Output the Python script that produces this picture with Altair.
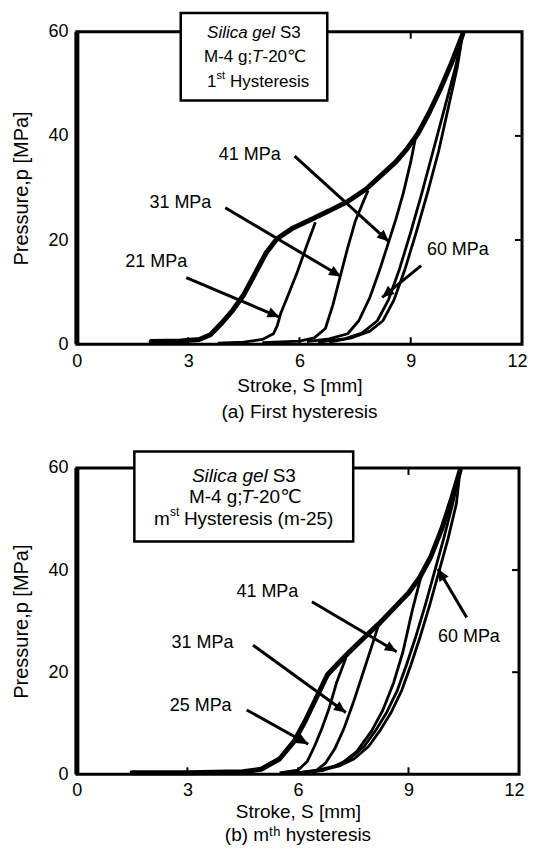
import math
import altair as alt
import pandas as pd

FONT = "Liberation Sans, DejaVu Sans"

# ---------------- (a) First hysteresis ----------------
a_load_x = [2.0, 2.8, 3.3, 3.6, 3.9, 4.2, 4.5, 4.8, 5.1, 5.4, 5.8, 6.3, 6.8, 7.3, 7.8, 8.2, 8.6, 8.9, 9.2, 9.5, 9.8, 10.1, 10.4]
a_load_y = [0.5, 0.6, 0.9, 1.8, 4.0, 6.5, 9.5, 13.5, 17.5, 20.3, 22.2, 23.9, 25.6, 27.4, 29.8, 32.4, 35.0, 37.5, 40.5, 44.5, 49.0, 54.0, 59.5]

a_u21_x = [6.43, 6.2, 5.95, 5.7, 5.5, 5.4, 5.3, 5.0, 4.5, 3.8]
a_u21_y = [23.4, 19.0, 14.0, 9.5, 6.0, 3.5, 2.0, 0.9, 0.4, 0.2]
a_u31_x = [7.85, 7.7, 7.5, 7.3, 7.1, 6.9, 6.7, 6.4, 6.0, 5.0]
a_u31_y = [29.5, 27.0, 23.5, 18.5, 13.0, 7.5, 3.0, 1.2, 0.6, 0.3]
a_u41_x = [9.15, 9.0, 8.8, 8.6, 8.4, 8.15, 7.9, 7.6, 7.3, 6.8, 6.2]
a_u41_y = [40.4, 35.0, 29.0, 24.0, 19.5, 14.0, 9.0, 4.5, 2.0, 1.0, 0.5]
a_u60_x = [10.4, 10.2, 9.9, 9.6, 9.3, 9.0, 8.7, 8.4, 8.1, 7.7, 7.2, 6.5]
a_u60_y = [59.5, 53.0, 45.0, 37.0, 29.0, 21.5, 14.5, 8.5, 4.5, 2.2, 1.0, 0.4]
a_v60_x = [10.4, 10.25, 10.0, 9.75, 9.45, 9.15, 8.85, 8.55, 8.25, 7.9, 7.4, 6.8]
a_v60_y = [59.5, 53.0, 45.0, 37.0, 29.0, 21.5, 14.5, 8.5, 4.5, 2.5, 1.2, 0.4]

a_labels = ["41 MPa", "31 MPa", "21 MPa", "60 MPa"]
a_label_x = [4.66, 2.79, 2.14, 10.27]
a_label_y = [36.4, 27.1, 15.8, 18.0]
a_arrow_x1 = [5.87, 4.0, 2.95, 9.28]
a_arrow_y1 = [36.1, 26.2, 12.8, 15.1]
a_arrow_x2 = [8.41, 7.12, 5.46, 8.23]
a_arrow_y2 = [19.7, 13.0, 5.2, 9.0]

a_box = [2.8, 6.75, 46.8, 63.6]  # x1, x2, y1, y2

# ---------------- (b) m-th hysteresis ----------------
b_load_x = [1.5, 3.0, 4.5, 5.0, 5.5, 5.9, 6.2, 6.5, 6.8, 7.1, 7.4, 7.8, 8.2, 8.6, 9.0, 9.3, 9.6, 9.9, 10.15, 10.4]
b_load_y = [0.3, 0.3, 0.5, 1.0, 3.0, 6.5, 10.5, 15.0, 19.5, 21.8, 24.0, 26.8, 29.5, 32.5, 35.5, 38.5, 42.5, 48.0, 53.5, 59.5]

b_u25_x = [7.3, 7.05, 6.85, 6.65, 6.45, 6.25, 6.0, 5.5]
b_u25_y = [22.8, 18.0, 13.0, 9.0, 5.5, 2.5, 0.8, 0.3]
b_u31_x = [8.2, 8.0, 7.75, 7.5, 7.25, 7.0, 6.75, 6.5, 6.0]
b_u31_y = [29.5, 25.0, 19.5, 14.0, 9.0, 5.0, 2.2, 0.8, 0.3]
b_u41_x = [9.35, 9.1, 8.85, 8.6, 8.3, 8.0, 7.6, 7.2, 6.7, 6.0]
b_u41_y = [39.0, 32.0, 24.0, 18.0, 12.5, 8.5, 4.5, 2.2, 0.8, 0.3]
b_u60_x = [10.4, 10.2, 9.95, 9.7, 9.45, 9.2, 8.95, 8.7, 8.4, 8.1, 7.8, 7.4, 7.0, 6.4, 5.8]
b_u60_y = [59.5, 53.0, 46.0, 39.5, 33.0, 27.0, 21.5, 16.5, 12.0, 8.5, 5.5, 3.0, 1.6, 0.6, 0.2]
b_v60_x = [10.4, 10.3, 10.07, 9.82, 9.57, 9.32, 9.07, 8.82, 8.52, 8.22, 7.92, 7.52, 7.1, 6.5, 5.9]
b_v60_y = [59.5, 53.0, 46.0, 39.5, 33.0, 27.0, 21.5, 16.5, 12.0, 8.5, 5.5, 3.0, 1.6, 0.6, 0.2]

b_labels = ["41 MPa", "31 MPa", "25 MPa", "60 MPa"]
b_label_x = [5.17, 3.41, 3.36, 10.64]
b_label_y = [35.7, 25.8, 13.4, 26.8]
b_arrow_x1 = [6.38, 4.78, 4.61, 10.58]
b_arrow_y1 = [33.8, 25.3, 12.6, 30.7]
b_arrow_x2 = [8.68, 7.3, 6.28, 9.80]
b_arrow_y2 = [24.0, 12.1, 5.9, 40.2]

b_box = [1.56, 7.5, 45.6, 63.2]

x_ticks = [0, 3, 6, 9, 12]
y_ticks = [0, 20, 40, 60]

ARROW_PATH = "M0,0 L-0.45,1 L0.45,1 Z"


def curves_df(curves):
    rows = []
    for name, xs, ys in curves:
        for i, (x, y) in enumerate(zip(xs, ys)):
            rows.append({"curve": name, "i": i, "x": x, "y": y})
    return pd.DataFrame(rows)


def panel(load, curves, labels, lx, ly, ax1, ay1, ax2, ay2, box, w, h,
          box_lines, caption, label_pad, title_pad, cap_off):
    ppx = w / 12.0
    ppy = h / 60.0
    xs = alt.Scale(domain=[0, 12], nice=False, zero=False)
    ys = alt.Scale(domain=[0, 60], nice=False)
    xax = alt.Axis(values=x_ticks, title="Stroke, S [mm]", grid=False, ticks=False,
                   domain=False, labelFontSize=18, labelPadding=label_pad, titleFontSize=19,
                   titleFontWeight="normal", titlePadding=title_pad, labelFont=FONT,
                   titleFont=FONT, labelColor="black", titleColor="black",
                   labelFlush=False,
                   labelAlign={"condition": {"test": "datum.value >= 12", "value": "right"},
                               "value": "center"},
                   labelOffset={"condition": {"test": "datum.value >= 12", "value": 5},
                                "value": 0})
    yax = alt.Axis(values=y_ticks, title="Pressure,p [MPa]", grid=False, ticks=False,
                   domain=False, labelFontSize=18, labelPadding=9, titleFontSize=20,
                   titleFontWeight="normal", titlePadding=16, labelFont=FONT,
                   titleFont=FONT, labelColor="black", titleColor="black",
                   labelFlush=False)

    ld = curves_df([("load", load[0], load[1])])
    base_load = alt.Chart(ld).mark_line(color="black", strokeWidth=5,
                                        strokeJoin="round", strokeCap="round").encode(
        x=alt.X("x:Q", scale=xs, axis=xax),
        y=alt.Y("y:Q", scale=ys, axis=yax),
        detail="curve:N", order="i:Q")

    ud = curves_df(curves)
    unload = alt.Chart(ud).mark_line(color="black", strokeWidth=2.8,
                                     strokeJoin="round").encode(
        x=alt.X("x:Q", scale=xs), y=alt.Y("y:Q", scale=ys),
        detail="curve:N", order="i:Q")

    # frame ticks (inward) and thick left frame line
    tk = pd.DataFrame({
        "x": [3, 6, 9, 9, 12, 12, 0],
        "x2": [3, 6, 9, 9, 12 - 7 / ppx, 12 - 7 / ppx, 0],
        "y": [0, 0, 0, 60, 20, 40, 0],
        "y2": [7 / ppy, 7 / ppy, 7 / ppy, 60 - 7 / ppy, 20, 40, 60],
        "sw": [2, 2, 2, 2, 2, 2, 5],
    })
    ticks = alt.Chart(tk).mark_rule(color="black").encode(
        x=alt.X("x:Q", scale=xs), x2="x2:Q",
        y=alt.Y("y:Q", scale=ys), y2="y2:Q",
        strokeWidth=alt.StrokeWidth("sw:Q", scale=None))

    ad = pd.DataFrame({"label": labels, "lx": lx, "ly": ly,
                       "x1": ax1, "y1": ay1, "x2": ax2, "y2": ay2})
    ad["ang"] = [(math.degrees(math.atan2((b - a) * ppx, (d - c) * ppy)) + 360) % 360
                 for a, b, c, d in zip(ad.x1, ad.x2, ad.y1, ad.y2)]
    shafts = alt.Chart(ad).mark_rule(color="black", strokeWidth=3).encode(
        x=alt.X("x1:Q", scale=xs), x2="x2:Q",
        y=alt.Y("y1:Q", scale=ys), y2="y2:Q")
    heads = alt.Chart(ad).mark_point(shape=ARROW_PATH, filled=True, color="black",
                                     size=560, opacity=1).encode(
        x=alt.X("x2:Q", scale=xs), y=alt.Y("y2:Q", scale=ys),
        angle=alt.Angle("ang:Q", scale=None))
    texts = alt.Chart(ad).mark_text(font=FONT, fontSize=18, color="black",
                                    align="center", baseline="middle").encode(
        x=alt.X("lx:Q", scale=xs), y=alt.Y("ly:Q", scale=ys), text="label:N")

    bd = pd.DataFrame({"x1": [box[0]], "x2": [box[1]], "y1": [box[2]], "y2": [box[3]]})
    rect = alt.Chart(bd).mark_rect(fill="white", stroke="black", strokeWidth=2.5).encode(
        x=alt.X("x1:Q", scale=xs), x2="x2:Q",
        y=alt.Y("y1:Q", scale=ys), y2="y2:Q")

    layers = [base_load, unload, ticks, shafts, heads, texts, rect]
    cx = (box[0] + box[1]) / 2
    for (ly_, segs) in box_lines:
        pos = pd.DataFrame({"x": [cx], "y": [ly_]})
        for (txt, dx, dy, style, size) in segs:
            layers.append(alt.Chart(pos).mark_text(
                text=txt, font=FONT, fontSize=size, fontStyle=style, color="black",
                align="left", baseline="middle", dx=dx, dy=dy).encode(
                x=alt.X("x:Q", scale=xs), y=alt.Y("y:Q", scale=ys)))

    return alt.layer(*layers).properties(
        width=w, height=h,
        title=alt.TitleParams(caption, orient="bottom", fontSize=19, font=FONT,
                              fontWeight="normal", color="black", offset=cap_off))


a_box_lines = [
    (59.7, [("Silica gel", -47, 0, "italic", 17), ("S3", 26, 0, "normal", 17)]),
    (55.1, [("M-4 g;", -50, 0, "normal", 17), ("T", -2, 0, "italic", 17),
            ("-20℃", 8.5, 0, "normal", 17)]),
    (50.4, [("1", -47, 0, "normal", 17), ("st", -37.5, -6, "normal", 11),
            ("Hysteresis", -24, 0, "normal", 17)]),
]
b_box_lines = [
    (58.5, [("Silica gel", -52, 0, "italic", 19), ("S3", 29, 0, "normal", 19)]),
    (54.3, [("M-4 g;", -55, 0, "normal", 19), ("T", -2.5, 0, "italic", 19),
            ("-20℃", 9, 0, "normal", 19)]),
    (50.0, [("m", -90, 0, "normal", 19), ("st", -74, -7, "normal", 12),
            ("Hysteresis (m-25)", -60, 0, "normal", 19)]),
]

top = panel((a_load_x, a_load_y),
            [("u21", a_u21_x, a_u21_y), ("u31", a_u31_x, a_u31_y),
             ("u41", a_u41_x, a_u41_y), ("u60", a_u60_x, a_u60_y),
             ("v60", a_v60_x, a_v60_y)],
            a_labels, a_label_x, a_label_y, a_arrow_x1, a_arrow_y1, a_arrow_x2, a_arrow_y2,
            a_box, 446, 313, a_box_lines, "(a) First hysteresis", 8, 6, 8)

bottom = panel((b_load_x, b_load_y),
               [("u25", b_u25_x, b_u25_y), ("u31", b_u31_x, b_u31_y),
                ("u41", b_u41_x, b_u41_y), ("u60", b_u60_x, b_u60_y),
                ("v60", b_v60_x, b_v60_y)],
               b_labels, b_label_x, b_label_y, b_arrow_x1, b_arrow_y1, b_arrow_x2, b_arrow_y2,
               b_box, 443, 307, b_box_lines, "(b) mᵗʰ hysteresis", 7, 3, 5)

chart = alt.vconcat(top, bottom, spacing=24).properties(
    padding={"left": 2, "top": 1, "right": 0, "bottom": 0},
    background="white"
).configure_view(stroke="black", strokeWidth=3)

chart.save("out.html", embed_options={"renderer": "svg", "actions": False})
